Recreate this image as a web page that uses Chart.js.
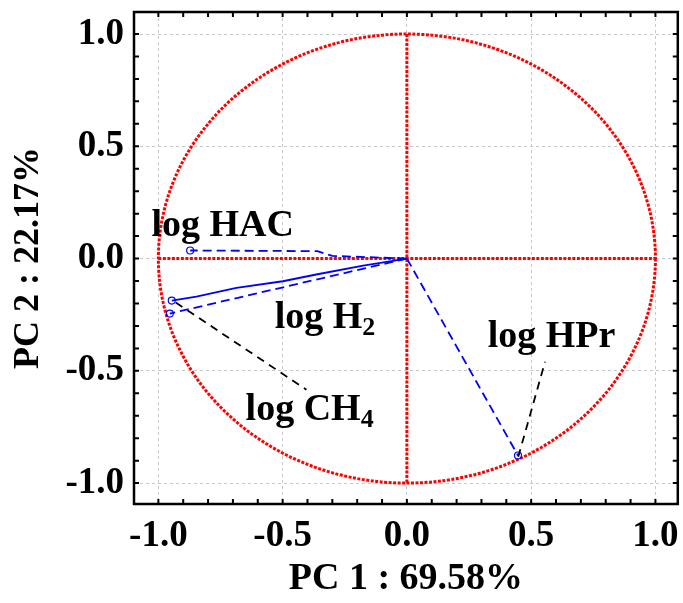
<!DOCTYPE html>
<html>
<head>
<meta charset="utf-8">
<script src="https://cdn.jsdelivr.net/npm/chart.js@4/dist/chart.umd.min.js"></script>
<style>
  html, body { margin: 0; padding: 0; background: #fff; }
  #wrap { width: 683px; height: 603px; }
</style>
</head>
<body>
<div id="wrap"><canvas id="pcaChart"></canvas></div>
<script>
// Loading vectors (PC1, PC2), drawn from the origin out to each variable
const hacX = [0, -0.30, -0.36, -0.872];
const hacY = [0, 0.012, 0.033, 0.036];
const h2X = [0, -0.176, -0.365, -0.499, -0.686, -0.847, -0.946];
const h2Y = [0, -0.031, -0.071, -0.101, -0.131, -0.170, -0.187];
const ch4X = [0, -0.954];
const ch4Y = [0, -0.245];
const hprX = [0, 0.447];
const hprY = [0, -0.877];

// Leader lines from labels to their vectors
const ch4LeadX = [-0.93, -0.404];
const ch4LeadY = [-0.196, -0.584];
const hprLeadX = [0.448, 0.556];
const hprLeadY = [-0.883, -0.459];

// Variable labels (left edge x, baseline y)
const labelText = ["log HAC", "log H", "log CH", "log HPr"];
const labelSub = ["", "2", "4", ""];
const labelX = [-1.028, -0.532, -0.649, 0.325];
const labelY = [0.099, -0.309, -0.718, -0.394];

// Axes
const tickValues = [-1.0, -0.5, 0.0, 0.5, 1.0];
const tickLabels = ["-1.0", "-0.5", "0.0", "0.5", "1.0"];
const xTitle = "PC 1 : 69.58%";
const yTitle = "PC 2 : 22.17%";

const serif = "'Liberation Serif', 'Times New Roman', serif";
const blue = "#0000ff";

function pts(xs, ys) {
  return xs.map((x, i) => ({ x: x, y: ys[i] }));
}

function vector(xs, ys, dashed) {
  return {
    data: pts(xs, ys),
    showLine: true,
    borderColor: blue,
    borderWidth: 1.8,
    borderDash: dashed ? [9, 5] : [],
    pointRadius: (c) => (c.dataIndex === xs.length - 1 ? 3.5 : 0),
    pointBorderColor: blue,
    pointBorderWidth: 1.2,
    pointBackgroundColor: "rgba(0,0,0,0)",
    tension: 0,
  };
}

function leader(xs, ys) {
  return {
    data: pts(xs, ys),
    showLine: true,
    borderColor: "#000",
    borderWidth: 1.8,
    borderDash: [8, 6],
    pointRadius: 0,
  };
}

// Unit circle and red reference axes, under the vectors
const circlePlugin = {
  id: "circle",
  beforeDatasetsDraw(chart) {
    const { ctx, scales } = chart;
    const x = scales.x, y = scales.y;
    const cx = x.getPixelForValue(0), cy = y.getPixelForValue(0);
    const rx = x.getPixelForValue(1) - cx;
    const ry = cy - y.getPixelForValue(1);
    ctx.save();
    ctx.strokeStyle = "#ff0000";
    ctx.lineWidth = 3;
    ctx.setLineDash([3, 1.5]);
    ctx.beginPath();
    ctx.ellipse(cx, cy, rx, ry, 0, 0, Math.PI * 2);
    ctx.stroke();
    ctx.beginPath();
    ctx.moveTo(x.getPixelForValue(-1), cy);
    ctx.lineTo(x.getPixelForValue(1), cy);
    ctx.moveTo(cx, y.getPixelForValue(1));
    ctx.lineTo(cx, y.getPixelForValue(-1));
    ctx.stroke();
    ctx.restore();
  },
};

// Frame, inward ticks every 0.1 and the variable labels
const framePlugin = {
  id: "frame",
  afterDraw(chart) {
    const { ctx, chartArea: a, scales } = chart;
    ctx.save();
    ctx.strokeStyle = "#000";
    ctx.lineWidth = 2;
    ctx.beginPath();
    for (let i = -10; i <= 10; i++) {
      const v = i / 10;
      const px = scales.x.getPixelForValue(v);
      const py = scales.y.getPixelForValue(v);
      ctx.moveTo(px, a.bottom); ctx.lineTo(px, a.bottom - 5);
      ctx.moveTo(px, a.top); ctx.lineTo(px, a.top + 5);
      ctx.moveTo(a.left, py); ctx.lineTo(a.left + 5, py);
      ctx.moveTo(a.right, py); ctx.lineTo(a.right - 5, py);
    }
    ctx.stroke();
    ctx.lineWidth = 2.5;
    ctx.strokeRect(a.left, a.top, a.right - a.left, a.bottom - a.top);

    ctx.fillStyle = "#000";
    ctx.textBaseline = "alphabetic";
    ctx.textAlign = "left";
    labelText.forEach((t, i) => {
      const px = scales.x.getPixelForValue(labelX[i]);
      const py = scales.y.getPixelForValue(labelY[i]);
      ctx.font = "bold 38px " + serif;
      ctx.fillText(t, px, py);
      if (labelSub[i]) {
        const w = ctx.measureText(t).width;
        ctx.font = "bold 26px " + serif;
        ctx.fillText(labelSub[i], px + w, py + 7);
      }
    });
    ctx.restore();
  },
};

const tickFont = { family: serif, size: 37, weight: "bold" };

function axis(title, titleFont, titlePad, fit) {
  return {
    type: "linear",
    afterBuildTicks: (s) => { s.ticks = tickValues.map((v) => ({ value: v })); },
    afterFit: fit,
    grid: {
      color: "#c8c8c8",
      lineWidth: 1,
      drawTicks: false,
    },
    border: { display: false, dash: [3, 3] },
    ticks: {
      color: "#000",
      font: tickFont,
      padding: 10,
      callback: (v) => tickLabels[tickValues.indexOf(v)],
    },
    title: {
      display: true,
      text: title,
      color: "#000",
      font: titleFont,
      padding: titlePad,
    },
  };
}

// fixed axis boxes so the plot frame lands where it should
const xScale = axis(xTitle, { family: serif, size: 38, weight: "bold" }, { top: 0, bottom: 1 }, (s) => {
  s.height = 99;
  s.paddingLeft = 0;
  s.paddingRight = 0;
});
xScale.min = -1.098;
xScale.max = 1.09;
const yScale = axis(yTitle, { family: serif, size: 36, weight: "bold" }, { top: 7, bottom: 0 }, (s) => {
  s.width = 134;
  s.paddingTop = 0;
  s.paddingBottom = 0;
});
yScale.min = -1.093;
yScale.max = 1.098;

new Chart(document.getElementById("pcaChart"), {
  type: "scatter",
  data: {
    datasets: [
      leader(ch4LeadX, ch4LeadY),
      leader(hprLeadX, hprLeadY),
      vector(hacX, hacY, true),
      vector(h2X, h2Y, false),
      vector(ch4X, ch4Y, true),
      vector(hprX, hprY, true),
    ],
  },
  options: {
    responsive: true,
    maintainAspectRatio: false,
    animation: false,
    layout: { padding: { top: 12, right: 4, left: 0, bottom: 0 } },
    plugins: {
      legend: { display: false },
      tooltip: { enabled: false },
    },
    scales: { x: xScale, y: yScale },
  },
  plugins: [circlePlugin, framePlugin],
});
</script>
</body>
</html>
